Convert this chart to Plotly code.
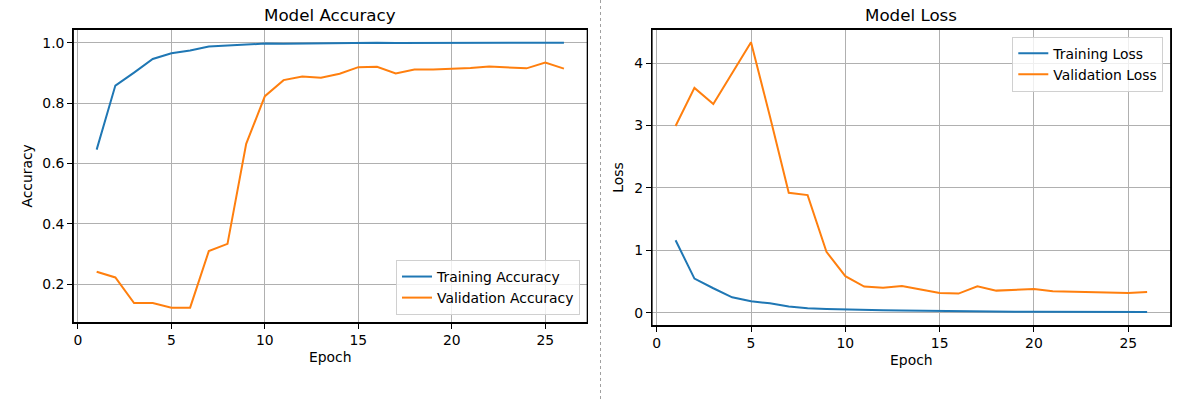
import plotly.graph_objects as go

epochs = list(range(1, 27))
train_acc = [0.646, 0.858, 0.901, 0.946, 0.965, 0.974, 0.987, 0.991, 0.995, 0.997,
             0.996, 0.997, 0.998, 0.999, 0.998, 1.0, 0.999, 0.999, 1.0, 0.999,
             1.0, 0.999, 1.0, 1.0, 1.0, 1.0]
val_acc = [0.242, 0.223, 0.138, 0.138, 0.123, 0.123, 0.310, 0.334, 0.665, 0.823,
           0.876, 0.888, 0.884, 0.897, 0.919, 0.920, 0.898, 0.911, 0.911, 0.913,
           0.916, 0.921, 0.917, 0.915, 0.934, 0.914]
train_loss = [1.16, 0.546, 0.391, 0.246, 0.182, 0.15, 0.10, 0.072, 0.06, 0.05,
              0.045, 0.04, 0.035, 0.03, 0.025, 0.02, 0.02, 0.018, 0.016, 0.015,
              0.014, 0.012, 0.011, 0.01, 0.01, 0.01]
val_loss = [2.993, 3.604, 3.347, 3.84, 4.337, 3.15, 1.922, 1.885, 0.975, 0.584,
            0.418, 0.400, 0.428, 0.37, 0.316, 0.305, 0.423, 0.353, 0.364, 0.38,
            0.343, 0.338, 0.33, 0.328, 0.316, 0.332]
x_ticks = [0, 5, 10, 15, 20, 25]
acc_ticks = [0.2, 0.4, 0.6, 0.8, 1.0]
loss_ticks = [0, 1, 2, 3, 4]

W, H = 1183, 399
BLUE = "#1f77b4"
ORANGE = "#ff7f0e"
FONT = "DejaVu Sans"

def px(x):
    return x / W

def py(y):
    return 1 - y / H

fig = go.Figure()
fig.add_trace(go.Scatter(x=epochs, y=train_acc, mode="lines", name="Training Accuracy",
                         line=dict(color=BLUE, width=2), xaxis="x", yaxis="y", legend="legend"))
fig.add_trace(go.Scatter(x=epochs, y=val_acc, mode="lines", name="Validation Accuracy",
                         line=dict(color=ORANGE, width=2), xaxis="x", yaxis="y", legend="legend"))
fig.add_trace(go.Scatter(x=epochs, y=train_loss, mode="lines", name="Training Loss",
                         line=dict(color=BLUE, width=2), xaxis="x2", yaxis="y2", legend="legend2"))
fig.add_trace(go.Scatter(x=epochs, y=val_loss, mode="lines", name="Validation Loss",
                         line=dict(color=ORANGE, width=2), xaxis="x2", yaxis="y2", legend="legend2"))

axis_common = dict(showline=True, linecolor="#000000", linewidth=1.2, mirror=True,
                   ticks="outside", ticklen=5, tickwidth=1.1, tickcolor="#000000",
                   showgrid=True, gridcolor="#b0b0b0", gridwidth=1, zeroline=False,
                   automargin=False,
                   tickfont=dict(family=FONT, size=13.9, color="black"))

L1, R1, T1, B1 = 73.3, 587.3, 29.3, 322.5
L2, R2, T2, B2 = 652.0, 1170.7, 29.3, 325.5

fig.update_layout(
    width=W, height=H,
    margin=dict(l=0, r=0, t=0, b=0, pad=0, autoexpand=False),
    paper_bgcolor="white", plot_bgcolor="white",
    font=dict(family=FONT, color="black"),
    xaxis=dict(axis_common, domain=[px(L1), px(R1)], range=[-0.25, 27.25],
               tickvals=x_ticks, anchor="y",
               title=dict(text="Epoch", font=dict(family=FONT, size=13.9), standoff=4)),
    yaxis=dict(axis_common, domain=[py(B1), py(T1)], range=[0.0738, 1.0442],
               tickvals=acc_ticks, tickformat=".1f", anchor="x",
               title=dict(text="Accuracy", font=dict(family=FONT, size=13.9), standoff=6)),
    xaxis2=dict(axis_common, domain=[px(L2), px(R2)], range=[-0.25, 27.25],
                tickvals=x_ticks, anchor="y2",
                title=dict(text="Epoch", font=dict(family=FONT, size=13.9), standoff=4)),
    yaxis2=dict(axis_common, domain=[py(B2), py(T2)], range=[-0.2064, 4.5434],
                tickvals=loss_ticks, anchor="x2",
                title=dict(text="Loss", font=dict(family=FONT, size=13.9), standoff=7)),
    legend=dict(x=px(580), y=py(315), xanchor="right", yanchor="bottom",
                bgcolor="rgba(255,255,255,0.8)", bordercolor="#d0d0d0", borderwidth=1,
                font=dict(family=FONT, size=13.9, color="black"), tracegroupgap=0),
    legend2=dict(x=px(1163.3), y=py(36.7), xanchor="right", yanchor="top",
                 bgcolor="rgba(255,255,255,0.8)", bordercolor="#d0d0d0", borderwidth=1,
                 font=dict(family=FONT, size=13.9, color="black"), tracegroupgap=0),
    showlegend=True,
    annotations=[
        dict(text="Model Accuracy", x=px((L1 + R1) / 2), y=py(15), xref="paper", yref="paper",
             xanchor="center", yanchor="middle", showarrow=False,
             font=dict(family=FONT, size=16.7, color="black")),
        dict(text="Model Loss", x=px((L2 + R2) / 2), y=py(15), xref="paper", yref="paper",
             xanchor="center", yanchor="middle", showarrow=False,
             font=dict(family=FONT, size=16.7, color="black")),
    ],
    shapes=[
        dict(type="line", xref="paper", yref="paper", x0=px(600.5), x1=px(600.5), y0=0, y1=1,
             line=dict(color="#a0a0a0", width=1, dash="dot")),
        dict(type="rect", xref="x domain", yref="y domain", x0=0, x1=1, y0=0, y1=1,
             line=dict(color="#000000", width=1.2), fillcolor="rgba(0,0,0,0)", layer="above"),
        dict(type="rect", xref="x2 domain", yref="y2 domain", x0=0, x1=1, y0=0, y1=1,
             line=dict(color="#000000", width=1.2), fillcolor="rgba(0,0,0,0)", layer="above"),
    ],
)

fig.write_html("out.html", config={"displayModeBar": False},
               post_script="document.body.style.margin='0';document.body.style.overflow='hidden';")
